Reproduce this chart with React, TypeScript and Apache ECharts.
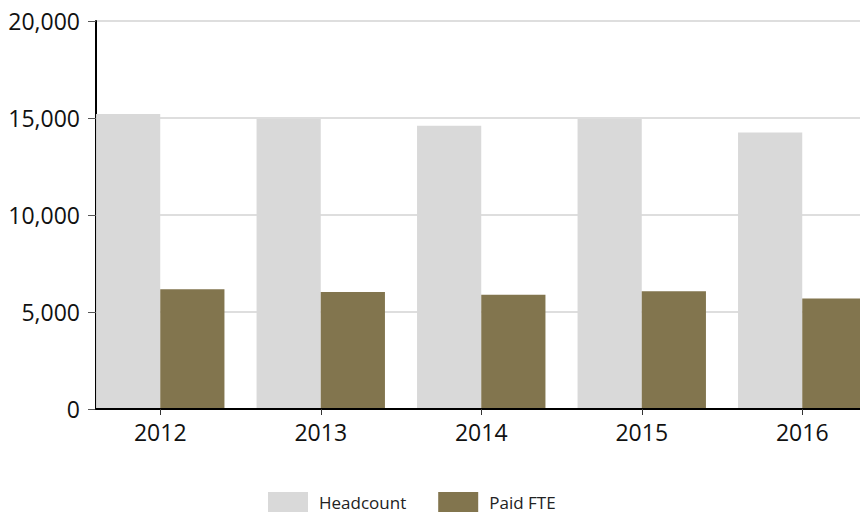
import React, { useEffect, useRef } from "react";
import * as echarts from "echarts";

const categories = ["2012", "2013", "2014", "2015", "2016"];
const headcount = [15200, 14950, 14600, 14950, 14250];
const paidFte = [6170, 6030, 5890, 6070, 5690];
const yTicks = { min: 0, max: 20000, interval: 5000 };

const FONT = "'Open Sans', 'Noto Sans', sans-serif";

export default function App() {
  const ref = useRef<HTMLDivElement>(null);
  useEffect(() => {
    if (!ref.current) return;
    const chart = echarts.init(ref.current, undefined, { renderer: "svg" });
    chart.setOption({
      animation: false,
      backgroundColor: "#ffffff",
      legend: {
        left: 268,
        top: 492,
        padding: 0,
        itemWidth: 40,
        itemHeight: 20,
        itemGap: 32,
        icon: "rect",
        textStyle: { fontFamily: FONT, fontSize: 17, lineHeight: 18, color: "#222", padding: [0, 0, 0, 6] },
        data: ["Headcount", "Paid FTE"],
      },
      grid: [
        { left: 96, right: 0, top: 21, bottom: 103, outerBoundsMode: "none", containLabel: false },
        { left: 80, right: -22.5, top: 21, bottom: 103, outerBoundsMode: "none", containLabel: false },
      ],
      xAxis: [
        {
          gridIndex: 0,
          type: "value",
          min: 0,
          max: 1,
          z: 10,
          axisLine: { show: true, lineStyle: { color: "#000", width: 2 } },
          axisTick: { show: false },
          axisLabel: { show: false },
          splitLine: { show: false },
        },
        {
          gridIndex: 1,
          type: "category",
          data: categories,
          z: 10,
          axisLine: { show: false },
          axisTick: { show: true, alignWithLabel: true, length: 6, lineStyle: { color: "#333", width: 1 } },
          axisLabel: { fontFamily: FONT, fontSize: 23, color: "#111", margin: 11 },
        },
      ],
      yAxis: [
        {
          gridIndex: 0,
          type: "value",
          min: yTicks.min,
          max: yTicks.max,
          interval: yTicks.interval,
          axisLine: { show: true, lineStyle: { color: "#000", width: 2 } },
          axisTick: { show: true, length: 8, lineStyle: { color: "#555", width: 1 } },
          axisLabel: {
            fontFamily: FONT,
            fontSize: 23,
            color: "#111",
            margin: 16,
            formatter: (v: number) => v.toLocaleString("en-US"),
          },
          splitLine: { show: true, lineStyle: { color: "#dedede", width: 2 } },
        },
        {
          gridIndex: 1,
          type: "value",
          min: yTicks.min,
          max: yTicks.max,
          interval: yTicks.interval,
          show: false,
          splitLine: { show: false },
        },
      ],
      series: [
        {
          name: "Headcount",
          type: "bar",
          xAxisIndex: 1,
          yAxisIndex: 1,
          data: headcount,
          barGap: "0%",
          barCategoryGap: "20%",
          itemStyle: { color: "#d9d9d9" },
        },
        {
          name: "Paid FTE",
          type: "bar",
          xAxisIndex: 1,
          yAxisIndex: 1,
          data: paidFte,
          barGap: "0%",
          barCategoryGap: "20%",
          itemStyle: { color: "#82754e" },
        },
      ],
    });
    return () => chart.dispose();
  }, []);
  return (
    <div
      ref={ref}
      style={{ position: "fixed", left: 0, top: 0, width: 860, height: 512 }}
    />
  );
}
